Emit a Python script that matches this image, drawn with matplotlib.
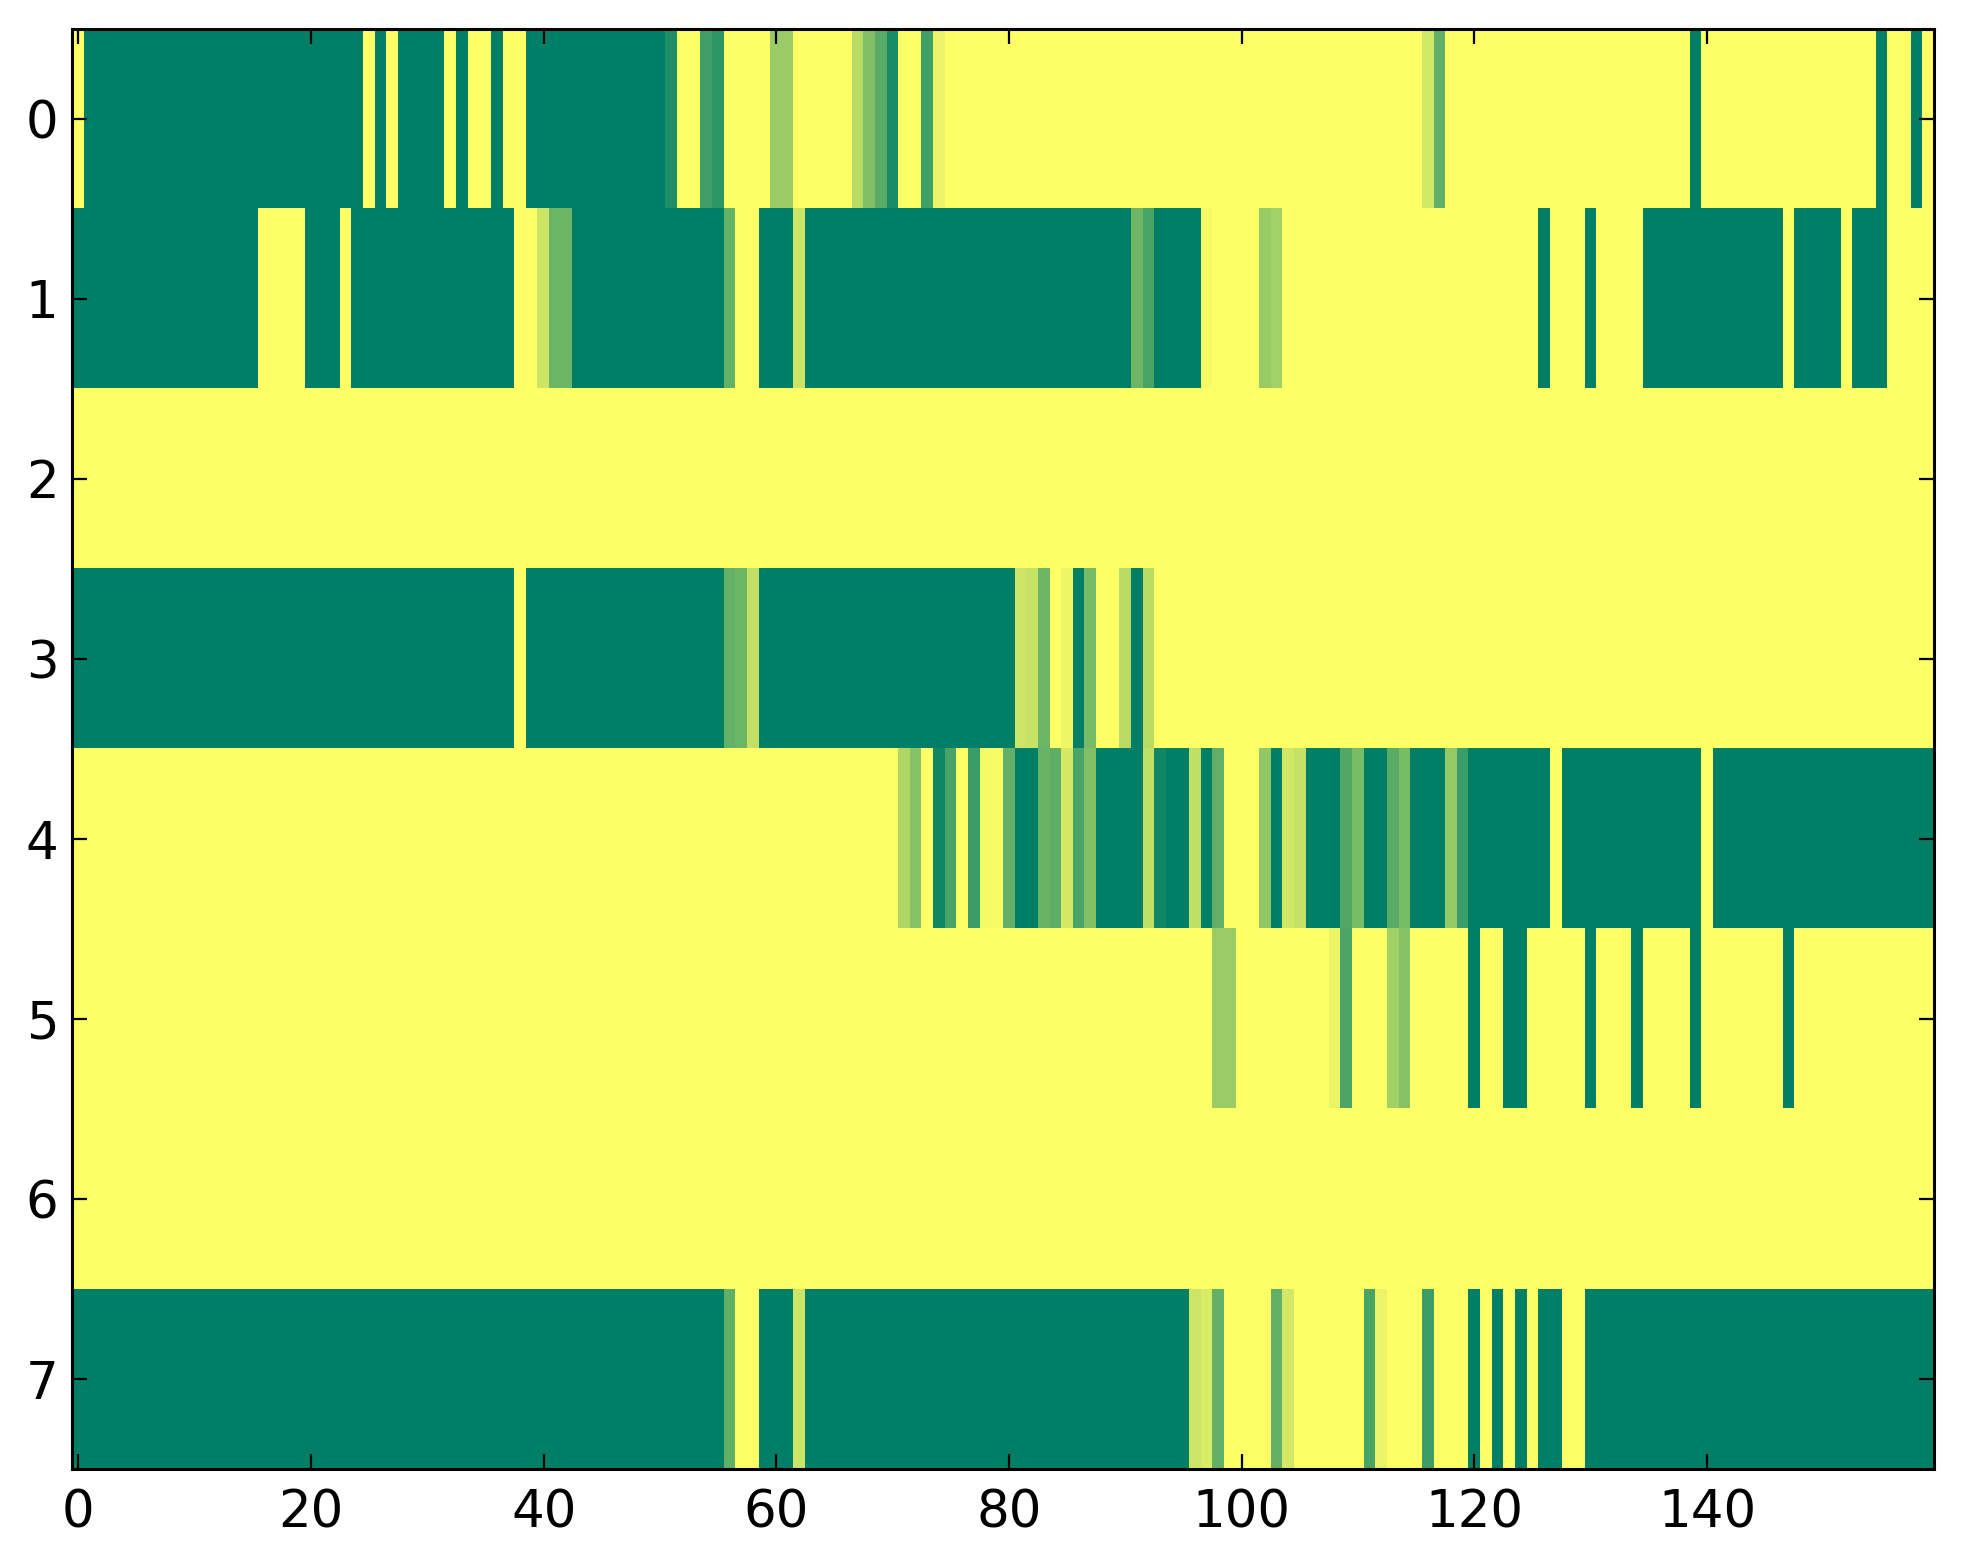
import numpy as np
from matplotlib import pyplot as plt

# valeurs, 160 colonnes par ligne (10 valeurs par ligne de code)
row0 = [1, 0, 0, 0, 0, 0, 0, 0, 0, 0,
        0, 0, 0, 0, 0, 0, 0, 0, 0, 0,
        0, 0, 0, 0, 0, 1, 0, 1, 0, 0,
        0, 0, 1, 0, 1, 1, 0, 1, 1, 0,
        0, 0, 0, 0, 0, 0, 0, 0, 0, 0,
        0, .12, 1, 1, .25, .18, 1, 1, 1, 1,
        .6, .6, 1, 1, 1, 1, 1, .72, .5, .35,
        .1, 1, 1, .25, .92, 1, 1, 1, 1, 1,
        1, 1, 1, 1, 1, 1, 1, 1, 1, 1,
        1, 1, 1, 1, 1, 1, 1, 1, 1, 1,
        1, 1, 1, 1, 1, 1, 1, 1, 1, 1,
        1, 1, 1, 1, 1, 1, .82, .38, 1, 1,
        1, 1, 1, 1, 1, 1, 1, 1, 1, 1,
        1, 1, 1, 1, 1, 1, 1, 1, 1, 0,
        1, 1, 1, 1, 1, 1, 1, 1, 1, 1,
        1, 1, 1, 1, 1, 0, 1, 1, 0, 1]

row1 = [0, 0, 0, 0, 0, 0, 0, 0, 0, 0,
        0, 0, 0, 0, 0, 0, 1, 1, 1, 1,
        0, 0, 0, 1, 0, 0, 0, 0, 0, 0,
        0, 0, 0, 0, 0, 0, 0, 0, 1, 1,
        .8, .42, .42, 0, 0, 0, 0, 0, 0, 0,
        0, 0, 0, 0, 0, 0, .39, 1, 1, 0,
        0, 0, .8, 0, 0, 0, 0, 0, 0, 0,
        0, 0, 0, 0, 0, 0, 0, 0, 0, 0,
        0, 0, 0, 0, 0, 0, 0, 0, 0, 0,
        0, .43, .29, 0, 0, 0, 0, .96, 1, 1,
        1, 1, .59, .64, 1, 1, 1, 1, 1, 1,
        1, 1, 1, 1, 1, 1, 1, 1, 1, 1,
        1, 1, 1, 1, 1, 1, 0, 1, 1, 1,
        0, 1, 1, 1, 1, 0, 0, 0, 0, 0,
        0, 0, 0, 0, 0, 0, 0, 1, 0, 0,
        0, 0, 1, 0, 0, 0, 1, 1, 1, 1]

row2 = [1, 1, 1, 1, 1, 1, 1, 1, 1, 1,
        1, 1, 1, 1, 1, 1, 1, 1, 1, 1,
        1, 1, 1, 1, 1, 1, 1, 1, 1, 1,
        1, 1, 1, 1, 1, 1, 1, 1, 1, 1,
        1, 1, 1, 1, 1, 1, 1, 1, 1, 1,
        1, 1, 1, 1, 1, 1, 1, 1, 1, 1,
        1, 1, 1, 1, 1, 1, 1, 1, 1, 1,
        1, 1, 1, 1, 1, 1, 1, 1, 1, 1,
        1, 1, 1, 1, 1, 1, 1, 1, 1, 1,
        1, 1, 1, 1, 1, 1, 1, 1, 1, 1,
        1, 1, 1, 1, 1, 1, 1, 1, 1, 1,
        1, 1, 1, 1, 1, 1, 1, 1, 1, 1,
        1, 1, 1, 1, 1, 1, 1, 1, 1, 1,
        1, 1, 1, 1, 1, 1, 1, 1, 1, 1,
        1, 1, 1, 1, 1, 1, 1, 1, 1, 1,
        1, 1, 1, 1, 1, 1, 1, 1, 1, 1]

row3 = [0, 0, 0, 0, 0, 0, 0, 0, 0, 0,
        0, 0, 0, 0, 0, 0, 0, 0, 0, 0,
        0, 0, 0, 0, 0, 0, 0, 0, 0, 0,
        0, 0, 0, 0, 0, 0, 0, 0, 1, 0,
        0, 0, 0, 0, 0, 0, 0, 0, 0, 0,
        0, 0, 0, 0, 0, 0, .39, .42, .76, 0,
        0, 0, 0, 0, 0, 0, 0, 0, 0, 0,
        0, 0, 0, 0, 0, 0, 0, 0, 0, 0,
        0, .8, .78, .42, 1, .93, 0, .47, 1, 1,
        .72, 0, .72, 1, 1, 1, 1, 1, 1, 1,
        1, 1, 1, 1, 1, 1, 1, 1, 1, 1,
        1, 1, 1, 1, 1, 1, 1, 1, 1, 1,
        1, 1, 1, 1, 1, 1, 1, 1, 1, 1,
        1, 1, 1, 1, 1, 1, 1, 1, 1, 1,
        1, 1, 1, 1, 1, 1, 1, 1, 1, 1,
        1, 1, 1, 1, 1, 1, 1, 1, 1, 1]

row4 = [1, 1, 1, 1, 1, 1, 1, 1, 1, 1,
        1, 1, 1, 1, 1, 1, 1, 1, 1, 1,
        1, 1, 1, 1, 1, 1, 1, 1, 1, 1,
        1, 1, 1, 1, 1, 1, 1, 1, 1, 1,
        1, 1, 1, 1, 1, 1, 1, 1, 1, 1,
        1, 1, 1, 1, 1, 1, 1, 1, 1, 1,
        1, 1, 1, 1, 1, 1, 1, 1, 1, 1,
        1, .69, .53, 1, .06, .29, 1, .23, .96, .97,
        .38, 0, 0, .41, .37, .83, .29, .5, 0, 0,
        0, 0, .75, .06, 0, 0, .75, 0, .38, 1,
        1, 1, .57, 0, .82, .77, 0, 0, 0, .32,
        .48, 0, 0, .35, .48, 0, 0, 0, .58, .23,
        0, 0, 0, 0, 0, 0, 0, 1, 0, 0,
        0, 0, 0, 0, 0, 0, 0, 0, 0, 0,
        1, 0, 0, 0, 0, 0, 0, 0, 0, 0,
        0, 0, 0, 0, 0, 0, 0, 0, 0, 0]

row5 = [1, 1, 1, 1, 1, 1, 1, 1, 1, 1,
        1, 1, 1, 1, 1, 1, 1, 1, 1, 1,
        1, 1, 1, 1, 1, 1, 1, 1, 1, 1,
        1, 1, 1, 1, 1, 1, 1, 1, 1, 1,
        1, 1, 1, 1, 1, 1, 1, 1, 1, 1,
        1, 1, 1, 1, 1, 1, 1, 1, 1, 1,
        1, 1, 1, 1, 1, 1, 1, 1, 1, 1,
        1, 1, 1, 1, 1, 1, 1, 1, 1, 1,
        1, 1, 1, 1, 1, 1, 1, 1, 1, 1,
        1, 1, 1, 1, 1, 1, 1, 1, .6, .6,
        1, 1, 1, 1, 1, 1, 1, 1, .92, .3,
        1, 1, 1, .63, .52, 1, 1, 1, 1, 1,
        0, 1, 1, 0, 0, 1, 1, 1, 1, 1,
        0, 1, 1, 1, 0, 1, 1, 1, 1, 0,
        1, 1, 1, 1, 1, 1, 1, 0, 1, 1,
        1, 1, 1, 1, 1, 1, 1, 1, 1, 1]

row6 = [1, 1, 1, 1, 1, 1, 1, 1, 1, 1,
        1, 1, 1, 1, 1, 1, 1, 1, 1, 1,
        1, 1, 1, 1, 1, 1, 1, 1, 1, 1,
        1, 1, 1, 1, 1, 1, 1, 1, 1, 1,
        1, 1, 1, 1, 1, 1, 1, 1, 1, 1,
        1, 1, 1, 1, 1, 1, 1, 1, 1, 1,
        1, 1, 1, 1, 1, 1, 1, 1, 1, 1,
        1, 1, 1, 1, 1, 1, 1, 1, 1, 1,
        1, 1, 1, 1, 1, 1, 1, 1, 1, 1,
        1, 1, 1, 1, 1, 1, 1, 1, 1, 1,
        1, 1, 1, 1, 1, 1, 1, 1, 1, 1,
        1, 1, 1, 1, 1, 1, 1, 1, 1, 1,
        1, 1, 1, 1, 1, 1, 1, 1, 1, 1,
        1, 1, 1, 1, 1, 1, 1, 1, 1, 1,
        1, 1, 1, 1, 1, 1, 1, 1, 1, 1,
        1, 1, 1, 1, 1, 1, 1, 1, 1, 1]

row7 = [0, 0, 0, 0, 0, 0, 0, 0, 0, 0,
        0, 0, 0, 0, 0, 0, 0, 0, 0, 0,
        0, 0, 0, 0, 0, 0, 0, 0, 0, 0,
        0, 0, 0, 0, 0, 0, 0, 0, 0, 0,
        0, 0, 0, 0, 0, 0, 0, 0, 0, 0,
        0, 0, 0, 0, 0, 0, .38, 1, 1, 0,
        0, 0, .8, 0, 0, 0, 0, 0, 0, 0,
        0, 0, 0, 0, 0, 0, 0, 0, 0, 0,
        0, 0, 0, 0, 0, 0, 0, 0, 0, 0,
        0, 0, 0, 0, 0, 0, .8, .85, .39, 1,
        1, 1, 1, .38, .83, 1, 1, 1, 1, 1,
        1, .29, .92, 1, 1, 1, .24, 1, 1, 1,
        0, 1, 0, 1, 0, 1, 0, 0, 1, 1,
        0, 0, 0, 0, 0, 0, 0, 0, 0, 0,
        0, 0, 0, 0, 0, 0, 0, 0, 0, 0,
        0, 0, 0, 0, 0, 0, 0, 0, 0, 0]

xticks = [0, 20, 40, 60, 80, 100, 120, 140]
yticks = [0, 1, 2, 3, 4, 5, 6, 7]

data = np.array([row0, row1, row2, row3, row4, row5, row6, row7])

f = plt.figure(figsize=(9.815, 7.82), dpi=200)
ax = f.add_axes([0.0369, 0.0607, 0.9852 - 0.0369, 0.9815 - 0.0607])
ax.imshow(data, cmap='summer', vmin=0, vmax=1, aspect='auto', interpolation='nearest')

ax.set_xticks(xticks)
ax.set_yticks(yticks)
ax.tick_params(direction='in', top=True, right=True, length=5.4, width=0.8,
               labelsize=18.5)
ax.tick_params(axis='x', pad=7)
ax.tick_params(axis='y', pad=5)
for s in ax.spines.values():
    s.set_linewidth(1.1)

f.savefig("out.png", dpi=200)
